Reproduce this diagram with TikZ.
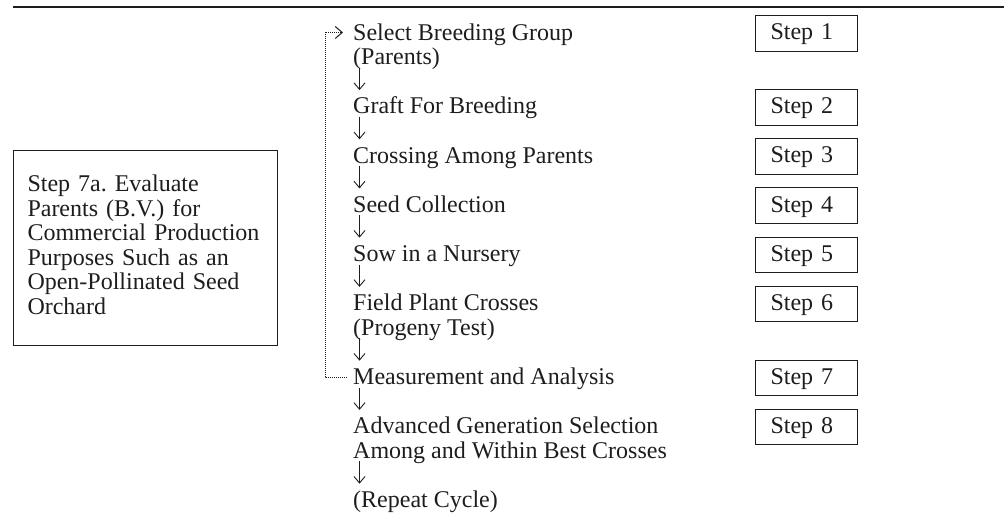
\documentclass[tikz,border=0pt]{standalone}
\usepackage{fontspec}
\setmainfont{Liberation Serif}
\usetikzlibrary{arrows.meta}
\frenchspacing
\definecolor{ink}{rgb}{0.12,0.11,0.11}
\newcommand{\mainsz}{\fontsize{24}{24.6}\selectfont}
\tikzset{
  lbl/.style={anchor=north west, inner sep=0pt, align=left, font=\mainsz, text=ink},
  stepbox/.style={draw=ink, line width=1pt, font=\mainsz, text=ink, inner xsep=15pt, inner ysep=0pt,
    text width=72pt, align=left, text height=17pt, text depth=4pt, minimum height=35.5pt, anchor=base west},
  sidebox/.style={draw=ink, line width=1pt, font=\mainsz, text=ink, inner xsep=14pt, inner ysep=17.65pt,
    text width=236pt, align=left, anchor=north west},
  dn/.style={draw=ink, line width=0.9pt, -{Straight Barb[length=6.5pt,width=11pt,line width=0.9pt]}},
  dotln/.style={draw=ink, line width=0.9pt, dash pattern=on 0.9pt off 1.1pt,
    -{Straight Barb[length=7pt,width=12pt,line width=1pt]}},
  rule/.style={draw=ink, line width=1.5pt}
}
\begin{document}
\begin{tikzpicture}[x=1pt,y=-1pt]
\useasboundingbox (0,0) rectangle (1004,521);
\coordinate (rl) at (13,7);
\coordinate (rr) at (1004,7);
\draw[rule] (rl) -- (rr);

% main column
\node[lbl] (sel)   at (353,22.78)  {\strut Select Breeding Group\\\strut(Parents)};
\node[lbl] (graft) at (353,96.58)  {\strut Graft For Breeding};
\node[lbl] (cross) at (353,145.78) {\strut Crossing Among Parents};
\node[lbl] (seed)  at (353,194.98) {\strut Seed Collection};
\node[lbl] (sow)   at (353,244.18) {\strut Sow in a Nursery};
\node[lbl] (field) at (353,293.38) {\strut Field Plant Crosses\\\strut(Progeny Test)};
\node[lbl] (meas)  at (353,367.18) {\strut Measurement and Analysis};
\node[lbl] (adv)   at (353,416.38) {\strut Advanced Generation Selection\\\strut Among and Within Best Crosses};
\node[lbl] (rep)   at (353,490.18) {\strut(Repeat Cycle)};

\foreach \a/\b in {sel/graft,graft/cross,cross/seed,seed/sow,sow/field,field/meas,meas/adv,adv/rep}{
  \draw[dn] ([shift={(6.5pt,4.6pt)}]\a.south west) -- ([shift={(6.5pt,6.5pt)}]\b.north west);
}

% step boxes
\node[stepbox] (s1) at (755,40)    {Step 1};
\node[stepbox] (s2) at (755,113.8) {Step 2};
\node[stepbox] (s3) at (755,163)   {Step 3};
\node[stepbox] (s4) at (755,212.2) {Step 4};
\node[stepbox] (s5) at (755,261.4) {Step 5};
\node[stepbox] (s6) at (755,310.6) {Step 6};
\node[stepbox] (s7) at (755,384.4) {Step 7};
\node[stepbox] (s8) at (755,433.6) {Step 8};

% side box
\node[sidebox] (s7a) at (13,150) {\rule{0pt}{23.3pt}Step 7a. Evaluate\\\strut Parents (B.V.) for\\\strut Commercial Production\\\strut Purposes Such as an\\\strut Open-Pollinated Seed\\\strut Orchard\rule[-13.5pt]{0pt}{1pt}};

% feedback loop
\draw[dotln] ([shift={(-6pt,2.5pt)}]meas.west) -- ++(-22pt,0pt) |- ([shift={(-10pt,-9.7pt)}]sel.north west);
\end{tikzpicture}
\end{document}
